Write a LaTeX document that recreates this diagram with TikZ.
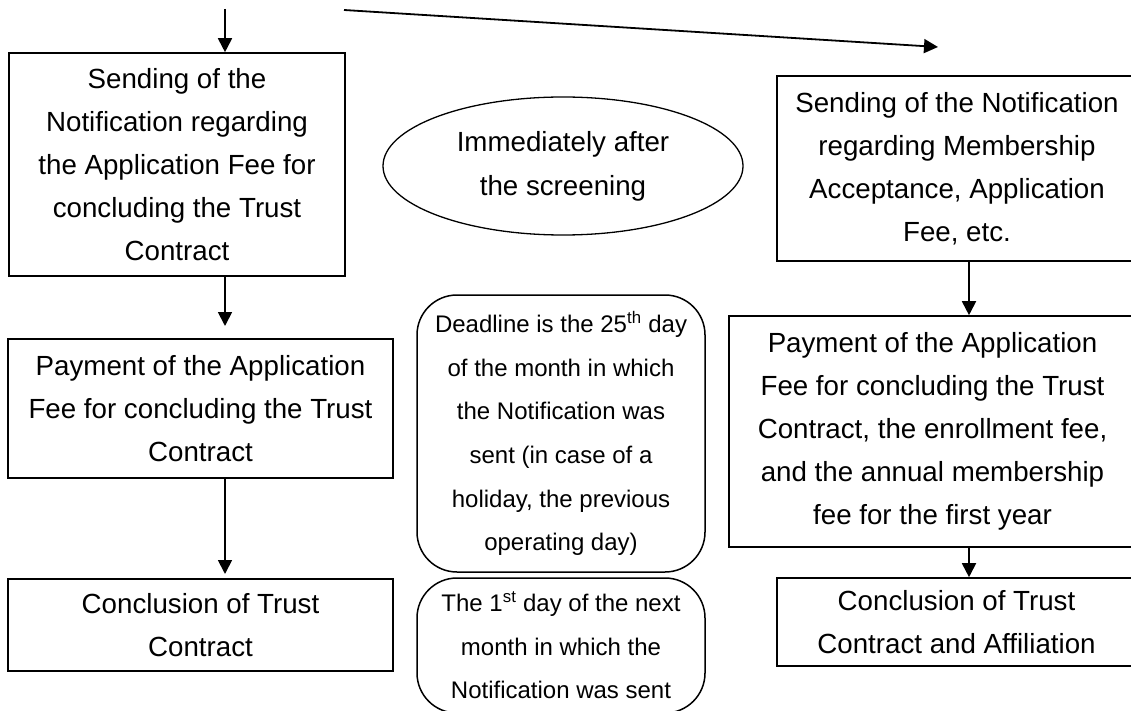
\documentclass[tikz,border=0pt]{standalone}
\usepackage{fontspec}
\setmainfont{Liberation Sans}
\usetikzlibrary{arrows.meta,shapes.geometric}
\begin{document}
\begin{tikzpicture}[x=1pt,y=-1pt,
  box/.style={draw,line width=1.6pt,rectangle,inner sep=0pt,align=center,
    font=\fontsize{27.7}{43}\selectfont},
  rbox/.style={draw,line width=1.5pt,rectangle,rounded corners=40pt,inner sep=0pt,align=center,
    font=\fontsize{24}{43.6}\selectfont},
  oval/.style={draw,line width=1.3pt,ellipse,inner sep=0pt,align=center,
    font=\fontsize{27.7}{44}\selectfont},
  arr/.style={line width=1.8pt,-{Triangle[length=14pt,width=14pt]}}]
\clip (0,0) rectangle (1131,711);
\fill[white] (0,0) rectangle (1131,711);
% left column
\node[box,minimum width=336,minimum height=223] (A) at (177,164.5)
  {Sending of the\\Notification regarding\\the Application Fee for\\concluding the Trust\\Contract};
\node[box,minimum width=385,minimum height=139] (B) at (200.5,408.5)
  {Payment of the Application\\Fee for concluding the Trust\\Contract};
\node[box,minimum width=385,minimum height=92] (C) at (200.5,625)
  {Conclusion of Trust\\Contract};
% middle column
\node[oval,minimum width=360,minimum height=138] (O) at (563,166)
  {Immediately after\\the screening};
\node[rbox,minimum width=288,minimum height=277] (D) at (561,433.5)
  {Deadline is the 25\textsuperscript{th} day\\of the month in which\\the Notification was\\sent (in case of a\\holiday, the previous\\operating day)};
\node[rbox,minimum width=288,minimum height=135] (E) at (561,645.5)
  {The 1\textsuperscript{st} day of the next\\month in which the\\Notification was sent};
% right column
\node[box,minimum width=360,minimum height=185] (F) at (957,168.5)
  {Sending of the Notification\\regarding Membership\\Acceptance, Application\\Fee, etc.};
\node[box,minimum width=407,minimum height=231] (G) at (932.5,431.5)
  {Payment of the Application\\Fee for concluding the Trust\\Contract, the enrollment fee,\\and the annual membership\\fee for the first year};
\node[box,minimum width=359,minimum height=88] (H) at (956.5,622)
  {Conclusion of Trust\\Contract and Affiliation};
% connectors
\coordinate (topsrc) at (225,9);
\coordinate (diagsrc) at (344,10);
\coordinate (diagtip) at (938,47);
\coordinate (abtip) at (225,326);
\coordinate (bctip) at (225,574);
\draw[arr] (topsrc) -- (A.north -| topsrc);
\draw[arr] (diagsrc) -- (diagtip);
\draw[arr] (A.south -| abtip) -- (abtip);
\draw[arr] (B.south -| bctip) -- (bctip);
\coordinate (rx) at (969,0);
\draw[arr] (F.south -| rx) -- (G.north -| rx);
\draw[arr] (G.south -| rx) -- (H.north -| rx);
\end{tikzpicture}
\end{document}
